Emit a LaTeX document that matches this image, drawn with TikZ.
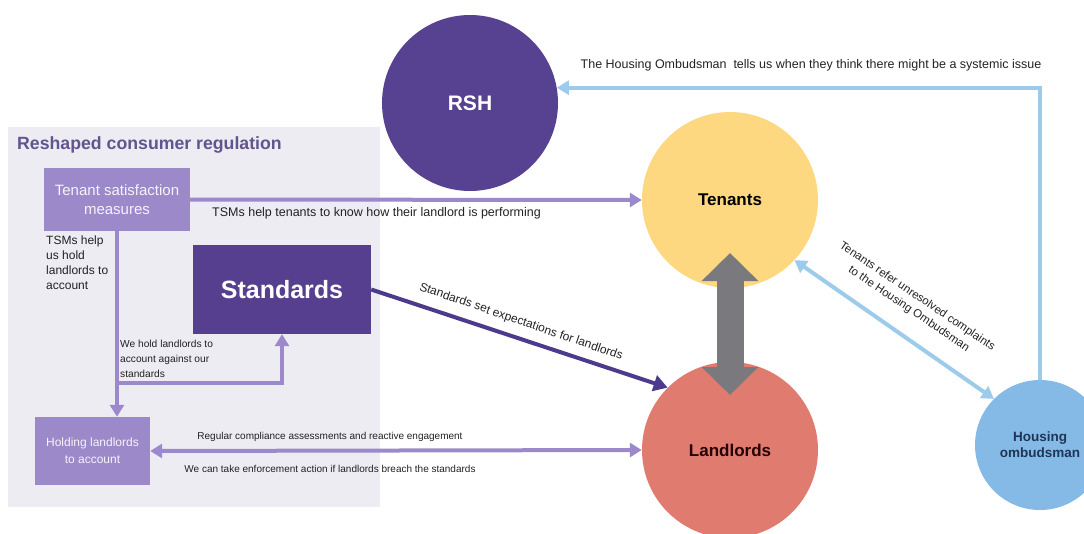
\documentclass[tikz,border=0pt]{standalone}
\usepackage{fontspec}
\setmainfont{Liberation Sans}
\usetikzlibrary{arrows.meta}

\definecolor{panel}{HTML}{EDECF3}
\definecolor{lilac}{HTML}{9B89C9}
\definecolor{plum}{HTML}{553F8E}
\definecolor{titlepurple}{HTML}{62548F}
\definecolor{rshpurple}{HTML}{574291}
\definecolor{tenyellow}{HTML}{FDD880}
\definecolor{landred}{HTML}{E07B70}
\definecolor{ombblue}{HTML}{84BAE5}
\definecolor{skyline}{HTML}{9CCBEB}
\definecolor{lilacline}{HTML}{9B89CC}
\definecolor{plumline}{HTML}{4C3A8C}
\definecolor{greyarrow}{HTML}{7A7A7E}
\definecolor{labelgrey}{HTML}{222222}

\begin{document}
\begin{tikzpicture}[x=1pt,y=-1pt,
	box/.style={fill=lilac, text=white!90!lilac, align=center, inner sep=0pt},
	party/.style={circle, minimum size=176pt, inner sep=0pt, font=\bfseries\fontsize{17}{20}\selectfont},
	note/.style={text=labelgrey, inner sep=0pt, font=\fontsize{12}{14}\selectfont},
	purplearrow/.style={draw=lilacline, line width=4pt, -{Triangle[length=12pt,width=14pt]}},
	bluearrow/.style={draw=skyline, line width=4pt, -{Triangle[length=12pt,width=14pt]}}
	]
\useasboundingbox (0,0) rectangle (1084,533);

\fill[panel] (8,127) rectangle (380,507);
\node[anchor=west, text=titlepurple, inner sep=0pt, font=\bfseries\fontsize{17.7}{20}\selectfont] (title) at (17,145) {Reshaped consumer regulation};

\node[box, minimum width=146pt, minimum height=63pt, font=\fontsize{15}{19}\selectfont] (tsm) at (117,199.5) {Tenant satisfaction\\measures};
\node[box, fill=plum, text=white, minimum width=178pt, minimum height=89pt, font=\bfseries\fontsize{25}{30}\selectfont] (std) at (282,289.5) {Standards};
\node[box, minimum width=115pt, minimum height=68pt, font=\fontsize{12}{17}\selectfont] (hold) at (92.5,451) {Holding landlords\\to account};

\node[party, fill=rshpurple, text=white, font=\bfseries\fontsize{21}{24}\selectfont] (rsh) at (470,103) {RSH};
\node[party, fill=tenyellow, text=black] (ten) at (730,200) {Tenants};
\node[party, fill=landred, text=black!85!red] (land) at (730,450) {Landlords};
\node[party, fill=ombblue, minimum size=130pt, align=center, text={rgb,255:red,31;green,53;blue,87}, font=\bfseries\fontsize{13.5}{16}\selectfont] (omb) at (1040,445) {Housing\\ombudsman};

\draw[draw=greyarrow, line width=27pt, {Triangle[length=28pt,width=55pt]}-{Triangle[length=28pt,width=55pt]}] ([yshift=-53pt]ten.center) -- ([yshift=55pt]land.center);

\draw[purplearrow] (tsm.east) -- (ten.west);
\draw[purplearrow] (tsm.south) -- (tsm.south |- hold.north);
\coordinate (fork) at (tsm.south |- 0,383);
\draw[purplearrow] (fork) -| (std.south);
\draw[purplearrow, {Triangle[length=12pt,width=14pt]}-{Triangle[length=12pt,width=14pt]}] (hold.east) -- (land.west);
\draw[draw=plumline, line width=4pt, -{Triangle[length=14pt,width=16pt]}] (std.east) -- (land.135);

\draw[bluearrow] (omb.north) |- (rsh.10);
\draw[bluearrow, {Triangle[length=12pt,width=14pt]}-{Triangle[length=12pt,width=14pt]}] (ten.-43) -- (omb.135);

\node[note, anchor=west, font=\fontsize{12.5}{14}\selectfont] (tsmnote) at (212,213) {TSMs help tenants to know how their landlord is performing};
\node[note, anchor=north west, align=left, font=\fontsize{12}{15}\selectfont] (accnote) at (46,236) {TSMs help\\us hold\\landlords to\\account};
\node[note, anchor=north west, align=left, font=\fontsize{10.2}{15}\selectfont] (stdnote) at (120,340) {We hold landlords to\\account against our\\standards};
\node[note, font=\fontsize{10}{13}\selectfont] (regnote) at (330,437) {Regular compliance assessments and reactive engagement};
\node[note, font=\fontsize{10}{13}\selectfont] (enfnote) at (330,469) {We can take enforcement action if landlords breach the standards};
\node[note, rotate=-19] (expnote) at (521,322) {Standards set expectations for landlords};
\node[note, rotate=-34, align=center, font=\fontsize{11.5}{15}\selectfont] (refnote) at (913,303) {Tenants refer unresolved complaints\\to the Housing Ombudsman};
\node[note, font=\fontsize{12.5}{14}\selectfont] (sysnote) at (811,65) {The Housing Ombudsman\ \ tells us when they think there might be a systemic issue};
\end{tikzpicture}
\end{document}
